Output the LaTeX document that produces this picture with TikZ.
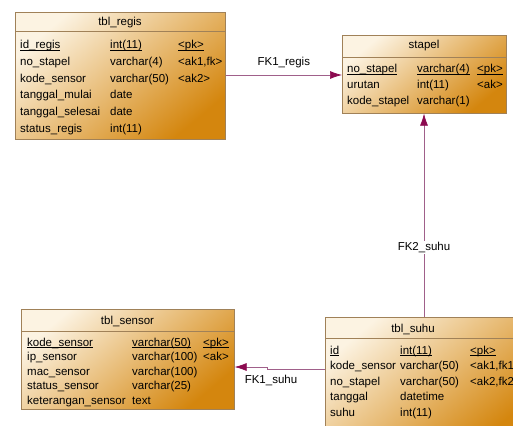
\documentclass[tikz,border=0pt]{standalone}
\usepackage{fontspec}
\setmainfont{Liberation Sans}
\usetikzlibrary{arrows.meta}

\definecolor{tblborder}{HTML}{A08158}
\definecolor{tbllight}{HTML}{FCF3E2}
\definecolor{tblmid}{HTML}{F0C06A}
\definecolor{tbldark}{HTML}{D4860E}
\definecolor{fkcol}{HTML}{A0608A}
\definecolor{fkhead}{HTML}{8C0A50}

\newsavebox{\pkbox}
\newcommand{\pk}[1]{\sbox{\pkbox}{#1}\rlap{\rule[-1.6pt]{\wd\pkbox}{0.5pt}}\usebox{\pkbox}}

\begin{document}
\begin{tikzpicture}[x=1pt, y=-1pt,
    every node/.style={font=\fontsize{11.5}{13}\selectfont, inner sep=0pt},
    tbl/.style={draw=tblborder, line width=0.6pt, anchor=north west,
      top color=tbllight, middle color=tblmid, bottom color=tbldark, shading angle=40},
    sep/.style={draw=tblborder, line width=0.6pt},
    fk/.style={draw=fkcol, line width=0.7pt, -{Latex[length=12pt, width=8pt, color=fkhead]}},
    fklabel/.style={fill=white, inner sep=1pt}]

    \useasboundingbox (0,0) rectangle (513,425);
    \clip (0,0) rectangle (513,425);
    \fill[white] (0,0) rectangle (513,425);

    % tbl_regis
    \node[tbl, minimum width=210pt, minimum height=127pt] (regis) at (15,12) {};
    \draw[sep] (15,31) -- (225,31);
    \node[anchor=base] (regis-title) at (120,26) {tbl\_regis};
    \foreach \n/\t/\k [count=\i, evaluate=\i as \y using 49+(\i-1)*16.6] in
      {{\pk{id\_regis}}/{\pk{int(11)}}/{\pk{<pk>}},
       no\_stapel/varchar(4)/{<ak1,fk>},
       kode\_sensor/varchar(50)/{<ak2>},
       tanggal\_mulai/date/{},
       tanggal\_selesai/date/{},
       status\_regis/int(11)/{}}
    {
      \node[anchor=base west] (regis-n\i) at (20,\y) {\n};
      \node[anchor=base west] (regis-t\i) at (110,\y) {\t};
      \node[anchor=base west] (regis-k\i) at (178,\y) {\k};
    }

    % stapel
    \node[tbl, minimum width=164pt, minimum height=78pt] (stapel) at (342,35) {};
    \draw[sep] (342,57) -- (506,57);
    \node[anchor=base] (stapel-title) at (424,49) {stapel};
    \foreach \n/\t/\k [count=\i, evaluate=\i as \y using 73+(\i-1)*15.7] in
      {{\pk{no\_stapel}}/{\pk{varchar(4)}}/{\pk{<pk>}},
       urutan/int(11)/{<ak>},
       kode\_stapel/varchar(1)/{}}
    {
      \node[anchor=base west] (stapel-n\i) at (347,\y) {\n};
      \node[anchor=base west] (stapel-t\i) at (417,\y) {\t};
      \node[anchor=base west] (stapel-k\i) at (477,\y) {\k};
    }

    % tbl_sensor
    \node[tbl, minimum width=213pt, minimum height=100pt] (sensor) at (21,309) {};
    \draw[sep] (21,331) -- (234,331);
    \node[anchor=base] (sensor-title) at (127.5,324) {tbl\_sensor};
    \foreach \n/\t/\k [count=\i, evaluate=\i as \y using 346+(\i-1)*14.5] in
      {{\pk{kode\_sensor}}/{\pk{varchar(50)}}/{\pk{<pk>}},
       ip\_sensor/varchar(100)/{<ak>},
       mac\_sensor/varchar(100)/{},
       status\_sensor/varchar(25)/{},
       keterangan\_sensor/text/{}}
    {
      \node[anchor=base west] (sensor-n\i) at (27,\y) {\n};
      \node[anchor=base west] (sensor-t\i) at (132,\y) {\t};
      \node[anchor=base west] (sensor-k\i) at (203,\y) {\k};
    }

    % tbl_suhu
    \node[tbl, minimum width=205pt, minimum height=125pt] (suhu) at (325,317) {};
    \draw[sep] (325,338) -- (530,338);
    \node[anchor=base] (suhu-title) at (413,332) {tbl\_suhu};
    \foreach \n/\t/\k [count=\i, evaluate=\i as \y using 354+(\i-1)*15.5] in
      {{\pk{id}}/{\pk{int(11)}}/{\pk{<pk>}},
       kode\_sensor/varchar(50)/{<ak1,fk1>},
       no\_stapel/varchar(50)/{<ak2,fk2>},
       tanggal/datetime/{},
       suhu/int(11)/{}}
    {
      \node[anchor=base west] (suhu-n\i) at (330,\y) {\n};
      \node[anchor=base west] (suhu-t\i) at (400,\y) {\t};
      \node[anchor=base west] (suhu-k\i) at (470,\y) {\k};
    }

    % foreign keys
    \draw[fk] (regis.east |- 0,75) -- node[above=7pt] (fk1-regis) {FK1\_regis} (stapel.west |- 0,75);
    \draw[fk] (suhu.north -| 424,0) -- node[pos=0.343, fklabel] (fk2-suhu) {FK2\_suhu} (stapel.south -| 424,0);
    \draw[fk] (suhu.west |- 0,369) -- (267,369) -- (267,367) -- (sensor.east |- 0,367);
    \node (fk1-suhu) at (271,380) {FK1\_suhu};

\end{tikzpicture}
\end{document}
